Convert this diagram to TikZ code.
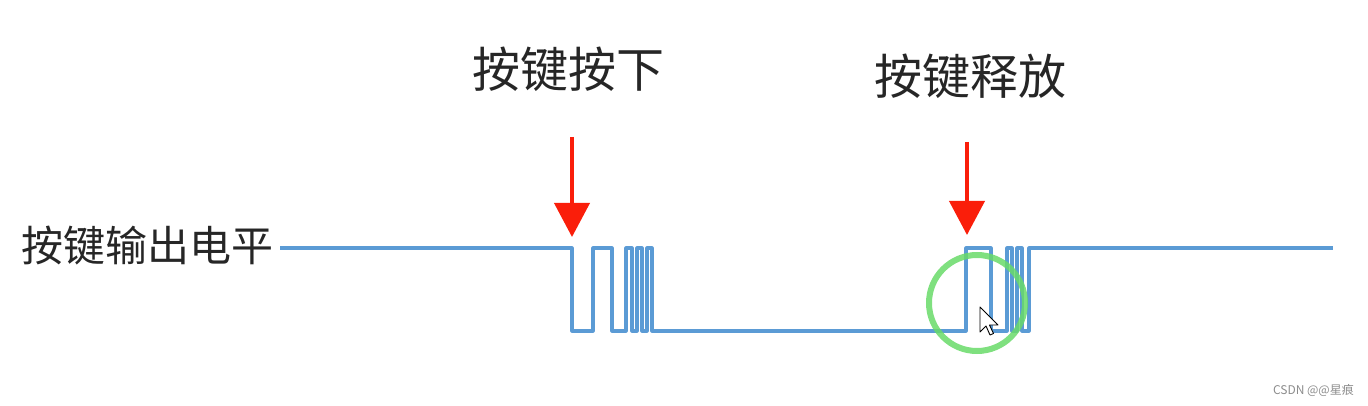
\documentclass[tikz,border=0pt]{standalone}
\usepackage{fontspec}
\newfontfamily\cjk{Noto Sans CJK SC}
\usetikzlibrary{arrows.meta}
\definecolor{wave}{RGB}{91,155,213}
\definecolor{arrred}{RGB}{250,30,10}
\definecolor{ringgreen}{RGB}{105,218,105}
\tikzset{
  wavestyle/.style={draw=wave, line width=3.1pt, line join=round},
  evtarrow/.style={draw=arrred, line width=4pt, -{Triangle[width=35pt,length=34pt]}},
  biglabel/.style={inner sep=0pt, font=\cjk\fontsize{48}{52}\selectfont, text=black!85},
  sidelabel/.style={inner sep=0pt, font=\cjk\fontsize{42}{46}\selectfont, text=black!85},
  marklabel/.style={inner sep=0pt, font=\cjk\fontsize{12}{14}\selectfont, text=black!45},
  ring/.style={draw=ringgreen, line width=6pt, draw opacity=0.85},
  cursorshape/.style={draw=black, fill=white, line width=0.9pt, line join=round}
}
\begin{document}
\begin{tikzpicture}[x=1pt,y=-1pt]
\useasboundingbox (0,0) rectangle (1368,406);
% labels
\node[biglabel] (press) at (568,69) {按键按下};
\node[biglabel] (release) at (970,76) {按键释放};
\node[sidelabel,anchor=west] (out) at (21,246) {按键输出电平};
\node[marklabel,anchor=east] (wm) at (1354,390) {CSDN @@星痕};
% waveform
\coordinate (w0) at (280,248);
\coordinate (wend) at (1333,248);
\draw[wavestyle] (w0) -- (572,248) -- (572,331) -- (593,331) -- (593,248) -- (612,248)
  -- (612,331) -- (626,331) -- (626,248) -- (632,248) -- (632,331) -- (637,331)
  -- (637,248) -- (642,248) -- (642,331) -- (647,331) -- (647,248) -- (652,248)
  -- (652,331) -- (966,331) -- (966,248) -- (991,248) -- (991,331) -- (1007,331)
  -- (1007,248) -- (1012,248) -- (1012,331) -- (1017,331) -- (1017,248) -- (1022,248)
  -- (1022,331) -- (1029,331) -- (1029,248) -- (wend);
% arrows
\coordinate (a1s) at (572,137);
\coordinate (a1e) at (572,237);
\coordinate (a2s) at (967,142);
\coordinate (a2e) at (967,235);
\draw[evtarrow] (a1s) -- (a1e);
\draw[evtarrow] (a2s) -- (a2e);
% green ring
\coordinate (rc) at (977,303);
\draw[ring] (rc) circle[radius=48];
% mouse cursor
\coordinate (ct) at (980,307);
\draw[cursorshape] (ct) -- ++(0,25) -- ++(6,-6) -- ++(4,9) -- ++(3.5,-1.5) -- ++(-4,-8.5) -- ++(8.5,0) -- cycle;
\end{tikzpicture}
\end{document}
